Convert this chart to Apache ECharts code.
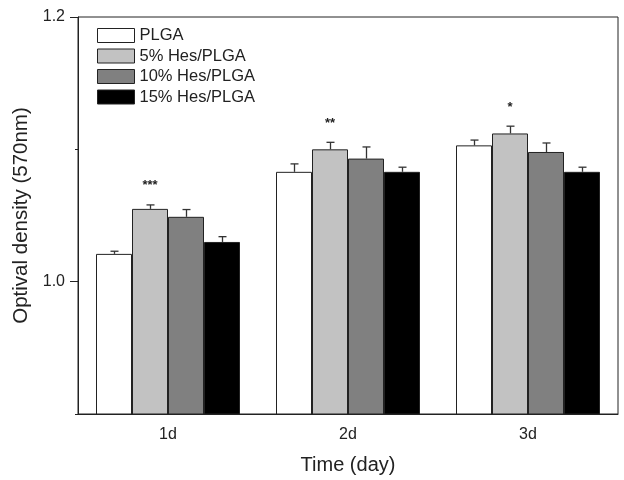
<!DOCTYPE html>
<html>
<head>
<meta charset="utf-8">
<script src="https://cdn.jsdelivr.net/npm/echarts@6/dist/echarts.min.js"></script>
<style>
html,body{margin:0;padding:0;background:#fff;}
#chart{width:624px;height:480px;}
</style>
</head>
<body>
<div id="chart"></div>
<script>
// 数据
var days = ['1d', '2d', '3d'];
var seriesNames = ['PLGA', '5% Hes/PLGA', '10% Hes/PLGA', '15% Hes/PLGA'];
var barColors = ['#ffffff', '#c2c2c2', '#808080', '#000000'];
var plga = [1.021, 1.083, 1.103];
var hes5 = [1.055, 1.100, 1.112];
var hes10 = [1.049, 1.093, 1.098];
var hes15 = [1.030, 1.083, 1.083];
var errPlga = [0.002, 0.006, 0.004];
var errHes5 = [0.003, 0.0053, 0.0055];
var errHes10 = [0.0055, 0.0088, 0.0068];
var errHes15 = [0.004, 0.0035, 0.0035];
var stars = ['***', '**', '*'];
var yLabelTicks = [1.0, 1.2];
var yMinorTicks = [0.9, 1.1];

var values = [plga, hes5, hes10, hes15];
var errors = [errPlga, errHes5, errHes10, errHes15];
var barW = 36;
var fontFam = '"Liberation Sans", Arial, sans-serif';

var myChart = echarts.init(document.getElementById('chart'));

var series = [];
values.forEach(function (vals, i) {
	series.push({
		name: seriesNames[i],
		type: 'bar',
		data: vals,
		barWidth: barW,
		barGap: '0%',
		itemStyle: { color: barColors[i], borderColor: '#222', borderWidth: 1 }
	});
});

// 误差线
values.forEach(function (vals, i) {
	series.push({
		type: 'custom',
		silent: true,
		z: 5,
		data: vals.map(function (v, k) { return [k, v, errors[i][k]]; }),
		renderItem: function (params, api) {
			var off = (i - 1.5) * barW;
			var top = api.coord([api.value(0), api.value(1) + api.value(2)]);
			var base = api.coord([api.value(0), api.value(1)]);
			var x = Math.round(top[0] + off) + 0.5;
			var st = { stroke: '#333', lineWidth: 1.3 };
			return {
				type: 'group',
				children: [
					{ type: 'line', shape: { x1: x, y1: base[1], x2: x, y2: top[1] }, style: st },
					{ type: 'line', shape: { x1: x - 4, y1: top[1], x2: x + 4, y2: top[1] }, style: st }
				]
			};
		}
	});
});

// 显著性标记
series.push({
	type: 'custom',
	silent: true,
	z: 6,
	data: hes5.map(function (v, k) { return [k, v + errHes5[k]]; }),
	renderItem: function (params, api) {
		var p = api.coord([api.value(0), api.value(1)]);
		return {
			type: 'text',
			style: {
				x: p[0] - 0.5 * barW, y: p[1] - 19,
				text: stars[params.dataIndex],
				fill: '#222', font: 'bold 13px ' + fontFam,
				align: 'center', verticalAlign: 'middle'
			}
		};
	}
});

var option = {
	backgroundColor: '#fff',
	animation: false,
	textStyle: { fontFamily: fontFam },
	grid: {
		left: 78, right: 6, top: 17, bottom: 66,
		show: true, borderColor: '#222', borderWidth: 1
	},
	legend: {
		orient: 'vertical',
		left: 97, top: 27, padding: 0,
		icon: 'rect',
		itemWidth: 37, itemHeight: 14, itemGap: 3.5,
		data: seriesNames,
		textStyle: { fontSize: 16.5, color: '#222', fontFamily: fontFam, padding: [0, 0, 0, 0] },
		itemStyle: { borderColor: '#222', borderWidth: 1 }
	},
	xAxis: [
		{
			type: 'category',
			data: days,
			position: 'bottom',
			name: 'Time (day)',
			nameLocation: 'middle',
			nameGap: 41,
			nameTextStyle: { fontSize: 20, color: '#222' },
			axisLine: { lineStyle: { color: '#222', width: 1 } },
			axisTick: { alignWithLabel: true, length: 8, lineStyle: { color: '#222' } },
			axisLabel: { fontSize: 16, color: '#222', margin: 13 }
		},
		{
			type: 'category',
			data: days,
			position: 'bottom',
			axisLine: { show: false },
			axisTick: { length: 4, lineStyle: { color: '#222' } },
			axisLabel: { show: false }
		}
	],
	yAxis: [
		{
			type: 'value',
			min: 0.9, max: 1.2, interval: 0.1,
			name: 'Optival density (570nm)',
			nameLocation: 'middle',
			nameGap: 42,
			nameTextStyle: { fontSize: 20.5, color: '#222' },
			splitLine: { show: false },
			axisLine: { show: true, lineStyle: { color: '#222', width: 1 } },
			axisTick: { show: true, length: 8, customValues: yLabelTicks, lineStyle: { color: '#222' } },
			axisLabel: {
				fontSize: 16, color: '#222', margin: 13,
				customValues: yLabelTicks,
				formatter: function (v) { return v.toFixed(1); }
			}
		},
		{
			type: 'value',
			min: 0.9, max: 1.2, interval: 0.1,
			position: 'left',
			splitLine: { show: false },
			axisLine: { show: false },
			axisTick: { show: true, length: 3, customValues: yMinorTicks, lineStyle: { color: '#222' } },
			axisLabel: { show: false }
		}
	],
	series: series
};

myChart.setOption(option);
window.onresize = myChart.resize;
</script>
</body>
</html>
